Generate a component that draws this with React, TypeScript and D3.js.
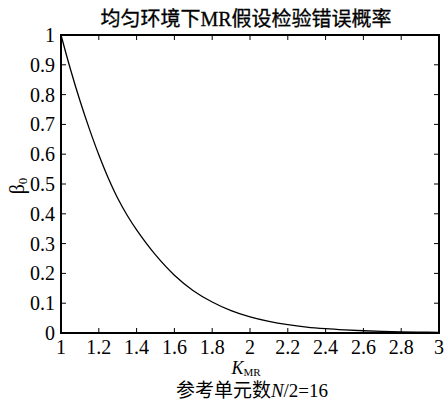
import React from "react";
import * as d3 from "d3";

const kValues = [1.0, 1.05, 1.1, 1.15, 1.2, 1.25, 1.3, 1.35, 1.4, 1.5, 1.6, 1.7, 1.8, 1.9, 2.0, 2.1, 2.2, 2.3, 2.4, 2.5, 2.6, 2.7, 2.8, 2.9, 3.0];
const betaValues = [1.0, 0.885, 0.78, 0.685, 0.598, 0.52, 0.452, 0.395, 0.346, 0.262, 0.194, 0.142, 0.104, 0.075, 0.054, 0.039, 0.028, 0.02, 0.0145, 0.0105, 0.0075, 0.0055, 0.004, 0.003, 0.0022];
const xTicks = [1, 1.2, 1.4, 1.6, 1.8, 2, 2.2, 2.4, 2.6, 2.8, 3];
const yTicks = [0, 0.1, 0.2, 0.3, 0.4, 0.5, 0.6, 0.7, 0.8, 0.9, 1];
const titleText = "均匀环境下MR假设检验错误概率";
const subText = "参考单元数";

const W = 444;
const H = 403;
const left = 61;
const right = 439;
const top = 35;
const bottom = 333;
const FONT = "Liberation Serif, DejaVu Serif, Noto Sans CJK SC, serif";
const fs = (size: number, extra: React.CSSProperties = {}): React.CSSProperties => ({
  fontFamily: FONT,
  fontSize: size,
  ...extra,
});

export default function App() {
  const x = d3.scaleLinear().domain([1, 3]).range([left, right]);
  const y = d3.scaleLinear().domain([0, 1]).range([bottom, top]);
  const data = kValues.map((k, i) => [k, betaValues[i]] as [number, number]);
  const line = d3
    .line<[number, number]>()
    .x((d) => x(d[0]))
    .y((d) => y(d[1]))
    .curve(d3.curveCatmullRom.alpha(0.5));
  const tl = 5;
  return (
    <svg
      width={W}
      height={H}
      style={{ position: "absolute", left: 0, top: 0, display: "block", background: "#fff" }}
    >
      <rect x={0} y={0} width={W} height={H} fill="#fff" />
      <text x={246} y={26} textAnchor="middle" style={fs(20)} fill="#000" stroke="#000" strokeWidth={0.3}>
        {titleText}
      </text>
      <path d={line(data) || ""} fill="none" stroke="#000" strokeWidth={1.3} />
      {xTicks.map((t) => (
        <g key={"x" + t}>
          <line x1={x(t)} x2={x(t)} y1={bottom} y2={bottom - tl} stroke="#000" strokeWidth={1} />
          <line x1={x(t)} x2={x(t)} y1={top} y2={top + tl} stroke="#000" strokeWidth={1} />
          <text x={x(t)} y={354} textAnchor="middle" style={fs(20)} fill="#000">
            {String(t)}
          </text>
        </g>
      ))}
      {yTicks.map((t) => (
        <g key={"y" + t}>
          <line x1={left} x2={left + tl} y1={y(t)} y2={y(t)} stroke="#000" strokeWidth={1} />
          <line x1={right} x2={right - tl} y1={y(t)} y2={y(t)} stroke="#000" strokeWidth={1} />
          <text x={55} y={y(t) + 7} textAnchor="end" style={fs(20)} fill="#000">
            {String(t)}
          </text>
        </g>
      ))}
      <rect x={left} y={top} width={right - left} height={bottom - top} fill="none" stroke="#000" strokeWidth={2} />
      <text transform={`translate(24, ${(top + bottom) / 2 + 2}) rotate(-90)`} textAnchor="middle" style={fs(20)} fill="#000">
        <tspan>β</tspan>
        <tspan style={fs(13)} dy={3}>0</tspan>
      </text>
      <text x={246} y={374} textAnchor="middle" style={fs(18)} fill="#000">
        <tspan style={fs(18, { fontStyle: "italic" })}>K</tspan>
        <tspan style={fs(11)} dy={2}>MR</tspan>
      </text>
      <text x={252} y={397} textAnchor="middle" style={fs(19)} fill="#000">
        <tspan>{subText}</tspan>
        <tspan style={fs(19, { fontStyle: "italic" })}>N</tspan>
        <tspan>/2=16</tspan>
      </text>
    </svg>
  );
}
